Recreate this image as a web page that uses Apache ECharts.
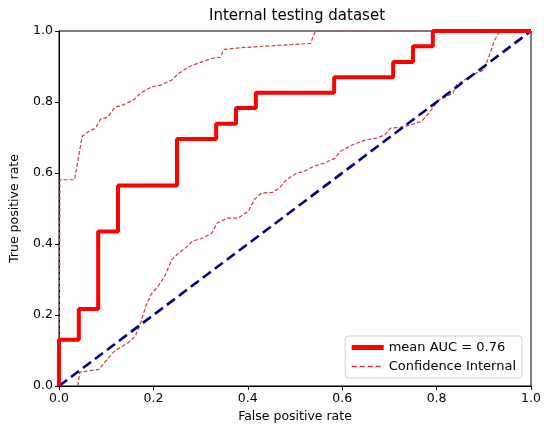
<!DOCTYPE html>
<html>
<head>
<meta charset="utf-8">
<script src="https://cdn.jsdelivr.net/npm/echarts@6/dist/echarts.min.js"></script>
<style>html,body{margin:0;padding:0;background:#fff}#c{width:550px;height:435px}</style>
</head>
<body>
<div id="c"></div>
<script>
var titleText = "Internal testing dataset";
var xName = "False positive rate";
var yName = "True positive rate";
var meanName = "mean AUC = 0.76";
var ciName = "Confidence Internal";

var meanFpr = [0,0,0.042,0.042,0.083,0.083,0.125,0.125,0.25,0.25,0.333,0.333,0.375,0.375,0.417,0.417,0.583,0.583,0.708,0.708,0.75,0.75,0.792,0.792,1];
var meanTpr = [0,0.13,0.13,0.217,0.217,0.435,0.435,0.565,0.565,0.696,0.696,0.739,0.739,0.783,0.783,0.826,0.826,0.870,0.870,0.913,0.913,0.957,0.957,1,1];

var upperFpr = [0,0.002,0.033,0.049,0.0625,0.077,0.088,0.103,0.118,0.136,0.158,0.173,0.195,0.217,0.239,0.254,0.276,0.298,0.324,0.342,0.349,0.386,0.445,0.533,0.543,1];
var upperTpr = [0,0.581,0.581,0.703,0.717,0.726,0.752,0.757,0.785,0.792,0.806,0.825,0.842,0.848,0.862,0.881,0.900,0.911,0.923,0.926,0.948,0.953,0.958,0.965,1,1];

var lowerFpr = [0.040,0.044,0.085,0.099,0.114,0.129,0.147,0.162,0.173,0.184,0.195,0.210,0.224,0.239,0.254,0.268,0.283,0.305,0.324,0.335,0.357,0.379,0.401,0.415,0.430,0.452,0.467,0.482,0.504,0.518,0.540,0.563,0.585,0.596,0.621,0.651,0.673,0.691,0.702,0.724,0.746,0.768,0.783,0.805,0.820,0.835,0.842,0.864,0.886,0.900,0.912,0.923,0.934,1];
var lowerTpr = [0,0.039,0.047,0.070,0.094,0.108,0.122,0.141,0.178,0.225,0.258,0.281,0.309,0.356,0.375,0.389,0.408,0.417,0.431,0.459,0.473,0.473,0.492,0.527,0.544,0.545,0.558,0.581,0.600,0.604,0.619,0.628,0.642,0.661,0.679,0.694,0.698,0.708,0.726,0.729,0.736,0.745,0.768,0.806,0.815,0.825,0.848,0.867,0.883,0.890,0.932,0.974,1,1];

var diagX = [0,1];
var diagY = [0,1];

function zip(a,b){return a.map(function(v,i){return [v,b[i]];});}

var chart = echarts.init(document.getElementById('c'), null, {renderer:'canvas'});
var font = "DejaVu Sans";
chart.setOption({
  animation:false,
  backgroundColor:'#fff',
  textStyle:{fontFamily:font},
  title:{text:titleText,left:292,textAlign:'center',top:4,textStyle:{fontFamily:font,fontSize:15,fontWeight:'normal',color:'#000'}},
  grid:{left:55,right:19,top:31,bottom:49,show:true,borderColor:'#000',borderWidth:1,backgroundColor:'transparent'},
  legend:{
    data:[
      {name:meanName,itemStyle:{opacity:0},lineStyle:{width:5,color:'#ff0000'}},
      {name:ciName,itemStyle:{opacity:0},lineStyle:{width:1.5,type:[5,3],color:'#d83030'}}
    ],
    itemStyle:{opacity:0},
    orient:'vertical',right:28,bottom:57,
    backgroundColor:'#fff',borderColor:'#d0d0d0',borderWidth:1,borderRadius:3,
    padding:[5,6,5,4],itemGap:6,itemWidth:32,itemHeight:14,
    textStyle:{fontFamily:font,fontSize:13,color:'#000'}
  },
  xAxis:{type:'value',min:0,max:1,interval:0.2,
    name:xName,nameLocation:'middle',nameGap:20,nameTextStyle:{fontFamily:font,fontSize:12.5,color:'#000'},
    axisLine:{show:true,lineStyle:{color:'#000',width:1}},
    axisTick:{show:true,length:4,lineStyle:{color:'#000'}},
    axisLabel:{fontFamily:font,fontSize:12.5,color:'#000',margin:6,formatter:function(v){return v.toFixed(1);}},
    splitLine:{show:false}},
  yAxis:{type:'value',min:0,max:1,interval:0.2,
    name:yName,nameLocation:'middle',nameGap:38,nameTextStyle:{fontFamily:font,fontSize:12.5,color:'#000'},
    axisLine:{show:true,lineStyle:{color:'#000',width:1}},
    axisTick:{show:true,length:4,lineStyle:{color:'#000'}},
    axisLabel:{fontFamily:font,fontSize:12.5,color:'#000',margin:6,formatter:function(v){return v.toFixed(1);}},
    splitLine:{show:false}},
  series:[
    {name:'diag',type:'line',data:zip(diagX,diagY),symbol:'none',silent:true,
      lineStyle:{color:'#000080',width:2.6,type:[10,5]},z:3},
    {name:ciName,type:'line',data:zip(upperFpr,upperTpr),symbol:'none',
      lineStyle:{color:'#c84040',width:1.2,type:[4,2]},itemStyle:{color:'#c84040'},z:2},
    {name:ciName,type:'line',data:zip(lowerFpr,lowerTpr),symbol:'none',
      lineStyle:{color:'#c84040',width:1.2,type:[4,2]},itemStyle:{color:'#c84040'},z:2},
    {name:meanName,type:'line',data:zip(meanFpr,meanTpr),symbol:'none',
      lineStyle:{color:'#ff0000',width:4},itemStyle:{color:'#ff0000'},z:4}
  ]
});
</script>
</body>
</html>
